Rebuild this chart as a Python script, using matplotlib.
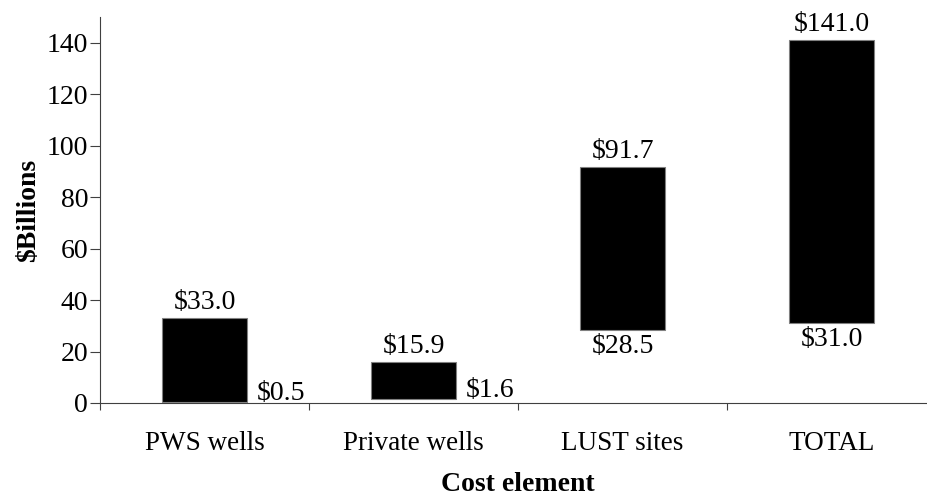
import matplotlib
matplotlib.use("Agg")
import matplotlib.pyplot as plt
import numpy as np

# cost range per element, $ billions
categories = ["PWS wells", "Private wells", "LUST sites", "TOTAL"]
low_values = [0.5, 1.6, 28.5, 31.0]
high_values = [33.0, 15.9, 91.7, 141.0]
yticks = [0, 20, 40, 60, 80, 100, 120, 140]

# where the low label goes: beside the bar or under it
low_side = ["right", "right", "below", "below"]

plt.rcParams["font.family"] = ["Liberation Serif", "DejaVu Serif"]
plt.rcParams["font.size"] = 20

fig = plt.figure(figsize=(9.27, 4.98), dpi=100)
ax = fig.add_axes([0.1079, 0.1908, 0.9018, 0.7751])

x = np.arange(len(categories)) + 0.5
low = np.array(low_values)
high = np.array(high_values)
w = 0.41

ax.bar(x, high - low, bottom=low, width=w, color="black",
       edgecolor="#808080", linewidth=0.8, zorder=3)

for xi, lo, hi, side in zip(x, low, high, low_side):
    ax.annotate("\\$%.1f" % hi, (xi, hi), xytext=(0, 2), textcoords="offset points",
                ha="center", va="bottom")
    if side == "right":
        ax.annotate("\\$%.1f" % lo, (xi + w / 2, lo), xytext=(7, -3),
                    textcoords="offset points", ha="left", va="bottom")
    else:
        ax.annotate("\\$%.1f" % lo, (xi, lo), xytext=(0, -3),
                    textcoords="offset points", ha="center", va="top")

ax.set_xlim(0, len(categories))
ax.set_ylim(0, 150)
ax.set_yticks(yticks)

# category boundaries get the tick marks, centres get the labels
ax.set_xticks(np.arange(len(categories) + 1))
ax.set_xticklabels([])
ax.set_xticks(x, minor=True)
ax.set_xticklabels(categories, minor=True, fontsize=19.5)
ax.tick_params(axis="x", which="major", direction="out", length=5, width=0.8, color="#404040")
ax.tick_params(axis="x", which="minor", length=0, pad=20)
ax.tick_params(axis="y", direction="out", length=7, width=0.8, pad=1.5, color="#404040")

for s in ["top", "right"]:
    ax.spines[s].set_visible(False)
for s in ["left", "bottom"]:
    ax.spines[s].set_color("#404040")
    ax.spines[s].set_linewidth(0.8)

ax.set_ylabel("\\$Billions", fontweight="bold", labelpad=4)
ax.set_xlabel("Cost element", fontweight="bold", labelpad=12)

fig.savefig("out.png", dpi=100)
